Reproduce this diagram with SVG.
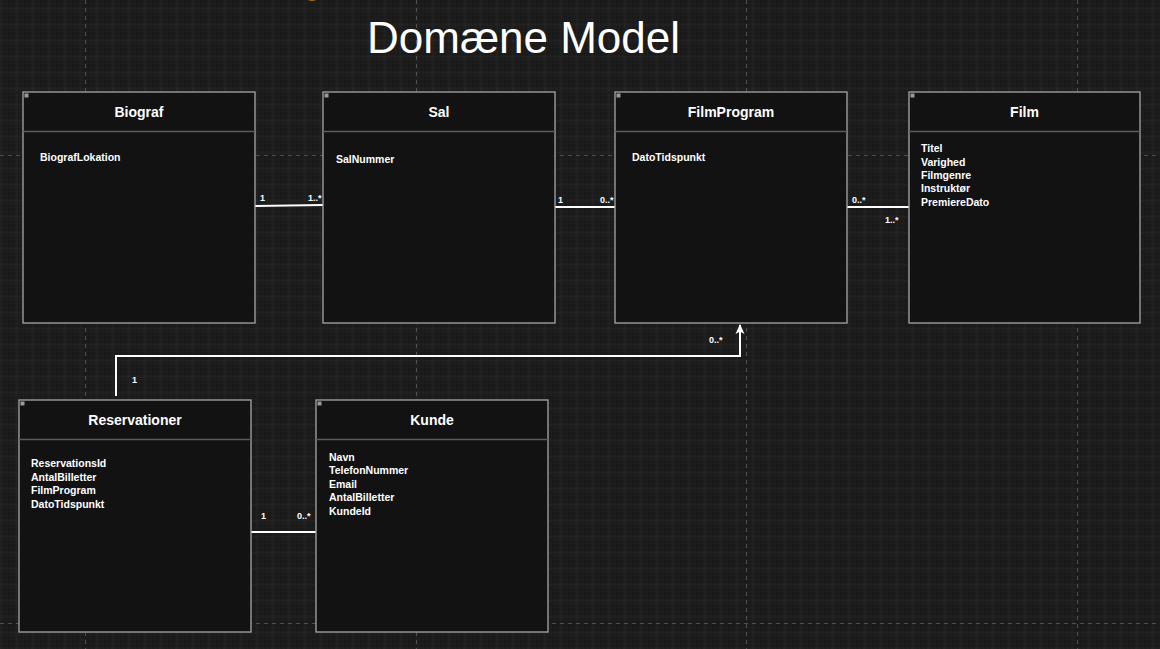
<svg xmlns="http://www.w3.org/2000/svg" width="1160" height="649" viewBox="0 0 1160 649">
<defs>
<pattern id="fine" width="4" height="4" patternUnits="userSpaceOnUse" x="0" y="0">
<path d="M4 0 V4 M0 4 H4" stroke="#1f1f1f" stroke-width="1" fill="none"/>
</pattern>
<pattern id="grid" width="16" height="16" patternUnits="userSpaceOnUse" x="0.5" y="8.5">
<path d="M0 0 V16 M0 0 H16" stroke="#303030" stroke-width="1" fill="none"/>
</pattern>
<marker id="arrow" viewBox="0 0 10 10" refX="9" refY="5" markerWidth="10" markerHeight="10" markerUnits="userSpaceOnUse" orient="auto">
<path d="M0,0.5 L10,5 L0,9.5 L2.5,5 z" fill="#ffffff"/>
</marker>
</defs>
<style>
.box{fill:#121212;stroke:#a6a6a6;stroke-width:1.3}
.sep{stroke:#5c5c5c;stroke-width:1.5}
.corner{fill:#9a9a9a}
.title{font-family:"Liberation Sans",Arial,sans-serif;font-weight:bold;font-size:14px;fill:#ffffff;text-anchor:middle}
.attr{font-family:"Liberation Sans",Arial,sans-serif;font-weight:bold;font-size:10.5px;fill:#ffffff}
.lbl{font-family:"Liberation Sans",Arial,sans-serif;font-weight:bold;font-size:9px;fill:#ffffff}
.conn{stroke:#ffffff;stroke-width:2;fill:none}
.page{stroke:#505050;stroke-width:1;stroke-dasharray:4 4;fill:none}
</style>
<rect width="1160" height="649" fill="#1a1a1a"/>
<rect width="1160" height="649" fill="url(#fine)"/>
<rect width="1160" height="649" fill="url(#grid)"/>
<g id="pagebreaks">
<path class="page" d="M85.5 0 V649 M416.5 0 V649 M746.5 0 V649 M1077.5 0 V649 M0 155.5 H1160 M0 623.5 H1160"/>
</g>
<ellipse cx="312" cy="-4.5" rx="7" ry="5.5" fill="#a86f00"/>
<text x="523.5" y="52.5" font-family="'Liberation Sans',Arial,sans-serif" font-size="44" fill="#ffffff" text-anchor="middle">Domæne Model</text>

<g id="connectors">
<line class="conn" x1="255" y1="206" x2="323" y2="205"/>
<line class="conn" x1="555" y1="207" x2="615" y2="207"/>
<line class="conn" x1="847" y1="207" x2="909" y2="207"/>
<polyline class="conn" points="116,396 116,356 740,356 740,325" marker-end="url(#arrow)"/>
<line class="conn" x1="248" y1="532" x2="316" y2="532"/>
<text class="lbl" x="260" y="201">1</text>
<text class="lbl" x="308" y="201">1..*</text>
<text class="lbl" x="558" y="203">1</text>
<text class="lbl" x="600" y="203">0..*</text>
<text class="lbl" x="852" y="203">0..*</text>
<text class="lbl" x="885" y="223">1..*</text>
<text class="lbl" x="132" y="383">1</text>
<text class="lbl" x="709" y="343">0..*</text>
<text class="lbl" x="261" y="519">1</text>
<text class="lbl" x="297" y="519">0..*</text>
</g>

<g id="biograf">
<rect class="box" x="23" y="92" width="232" height="231"/>
<line class="sep" x1="23" y1="131.5" x2="255" y2="131.5"/>
<rect class="corner" x="24.5" y="93.5" width="4" height="4"/>
<text class="title" x="139" y="117">Biograf</text>
<text class="attr" x="40" y="161">BiografLokation</text>
</g>

<g id="sal">
<rect class="box" x="323" y="92" width="232" height="231"/>
<line class="sep" x1="323" y1="131.5" x2="555" y2="131.5"/>
<rect class="corner" x="324.5" y="93.5" width="4" height="4"/>
<text class="title" x="439" y="117">Sal</text>
<text class="attr" x="336" y="163">SalNummer</text>
</g>

<g id="filmprogram">
<rect class="box" x="615" y="92" width="232" height="231"/>
<line class="sep" x1="615" y1="131.5" x2="847" y2="131.5"/>
<rect class="corner" x="616.5" y="93.5" width="4" height="4"/>
<text class="title" x="731" y="117">FilmProgram</text>
<text class="attr" x="632" y="161">DatoTidspunkt</text>
</g>

<g id="film">
<rect class="box" x="909" y="92" width="231" height="231"/>
<line class="sep" x1="909" y1="131.5" x2="1140" y2="131.5"/>
<rect class="corner" x="910.5" y="93.5" width="4" height="4"/>
<text class="title" x="1024.5" y="117">Film</text>
<text class="attr" x="921" y="152.3">Titel</text>
<text class="attr" x="921" y="165.7">Varighed</text>
<text class="attr" x="921" y="179">Filmgenre</text>
<text class="attr" x="921" y="192.3">Instruktør</text>
<text class="attr" x="921" y="205.7">PremiereDato</text>
</g>

<g id="reservationer">
<rect class="box" x="19" y="400" width="232" height="232"/>
<line class="sep" x1="19" y1="439.5" x2="251" y2="439.5"/>
<rect class="corner" x="20.5" y="401.5" width="4" height="4"/>
<text class="title" x="135" y="425">Reservationer</text>
<text class="attr" x="31" y="467">ReservationsId</text>
<text class="attr" x="31" y="480.7">AntalBilletter</text>
<text class="attr" x="31" y="494.4">FilmProgram</text>
<text class="attr" x="31" y="508">DatoTidspunkt</text>
</g>

<g id="kunde">
<rect class="box" x="316" y="400" width="232" height="232"/>
<line class="sep" x1="316" y1="439.5" x2="548" y2="439.5"/>
<rect class="corner" x="317.5" y="401.5" width="4" height="4"/>
<text class="title" x="432" y="425">Kunde</text>
<text class="attr" x="329" y="460.5">Navn</text>
<text class="attr" x="329" y="474">TelefonNummer</text>
<text class="attr" x="329" y="487.6">Email</text>
<text class="attr" x="329" y="501.1">AntalBilletter</text>
<text class="attr" x="329" y="514.7">KundeId</text>
</g>
</svg>
